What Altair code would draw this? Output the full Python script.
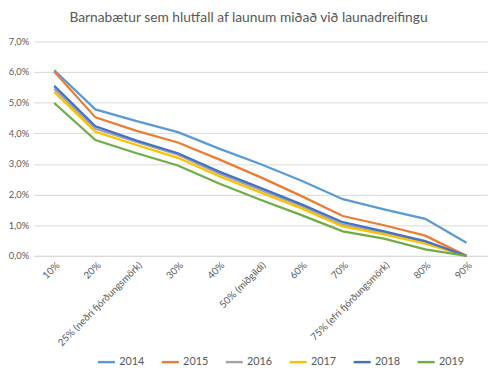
import altair as alt
import pandas as pd

categories = ["10%", "20%", "25% (neðri fjórðungsmörk)", "30%", "40%", "50% (miðgildi)",
              "60%", "70%", "75% (efri fjórðungsmörk)", "80%", "90%"]
years = ["2014", "2015", "2016", "2017", "2018", "2019"]
v2014 = [6.06, 4.78, 4.40, 4.04, 3.50, 3.00, 2.45, 1.85, 1.52, 1.21, 0.43]
v2015 = [6.02, 4.52, 4.08, 3.70, 3.15, 2.57, 1.95, 1.30, 1.00, 0.66, 0.00]
v2016 = [5.45, 4.15, 3.72, 3.30, 2.68, 2.15, 1.62, 1.02, 0.76, 0.45, 0.00]
v2017 = [5.35, 4.05, 3.62, 3.20, 2.60, 2.07, 1.55, 0.96, 0.70, 0.40, 0.00]
v2018 = [5.55, 4.23, 3.76, 3.35, 2.75, 2.22, 1.68, 1.10, 0.80, 0.48, 0.00]
v2019 = [4.99, 3.78, 3.35, 2.95, 2.36, 1.83, 1.33, 0.80, 0.56, 0.21, 0.00]
colors = ["#5B9BD5", "#ED7D31", "#A5A5A5", "#FFC000", "#4472C4", "#70AD47"]

series = [v2014, v2015, v2016, v2017, v2018, v2019]
rows = []
for y, vals in zip(years, series):
    for c, v in zip(categories, vals):
        rows.append({"cat": c, "year": y, "value": v})
df = pd.DataFrame(rows)

FONT = "Lato"
GREY = "#595959"

chart = alt.Chart(df).mark_line(strokeWidth=2.3).encode(
    x=alt.X("cat:N", sort=categories, title=None,
            scale=alt.Scale(type="point", padding=0.5),
            axis=alt.Axis(labelAngle=-45, labelAlign="right", labelBaseline="top",
                          labelFontSize=10, labelColor=GREY, labelFont=FONT,
                          ticks=False, domainColor="#d9d9d9", labelPadding=4,
                          grid=False, labelLimit=200)),
    y=alt.Y("value:Q", title=None,
            scale=alt.Scale(domain=[0, 7], nice=False),
            axis=alt.Axis(values=[0, 1, 2, 3, 4, 5, 6, 7],
                          labelExpr="replace(format(datum.value, '.1f'), '.', ',') + '%'",
                          labelFontSize=9.5, labelColor=GREY, labelFont=FONT,
                          ticks=False, domain=False, gridColor="#d9d9d9",
                          labelPadding=5)),
    color=alt.Color("year:N", sort=years,
                    scale=alt.Scale(domain=years, range=colors),
                    legend=alt.Legend(orient="none", direction="horizontal", columns=6,
                                      legendX=64, legendY=316, title=None,
                                      symbolType="stroke", symbolSize=300,
                                      symbolStrokeWidth=2.5, labelFontSize=11,
                                      labelColor=GREY, labelFont=FONT,
                                      columnPadding=12, labelOffset=3)),
    order=alt.Order("year:N"),
).properties(
    width=461,
    height=218,
    autosize=alt.AutoSizeParams(type="none"),
    padding={"left": 26, "top": 31, "right": 5, "bottom": 110},
    title=alt.TitleParams("Barnabætur sem hlutfall af launum miðað við launadreifingu",
                          fontSize=14, font=FONT, fontWeight="normal", color=GREY,
                          anchor="middle", dx=-12, offset=12),
).configure_view(stroke=None)

chart.save("out.html", embed_options={"renderer": "svg", "actions": False})
